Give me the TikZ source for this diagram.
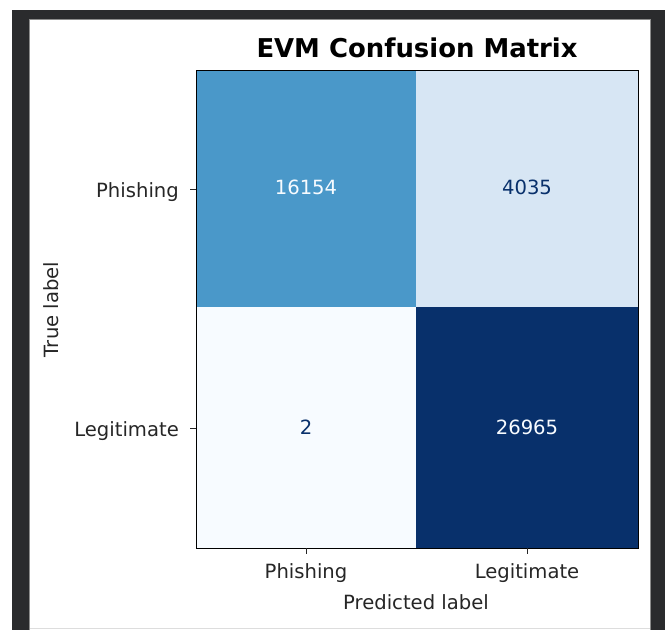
\documentclass[tikz,border=0pt]{standalone}
\usepackage{fontspec}
\setmainfont{DejaVu Sans}
\definecolor{framedark}{HTML}{2A2B2D}
\definecolor{framegray}{HTML}{8C8C8C}
\definecolor{bluemid}{HTML}{4A98C9}
\definecolor{bluepale}{HTML}{D7E6F4}
\definecolor{bluewhite}{HTML}{F7FBFF}
\definecolor{bluedark}{HTML}{08306B}
\definecolor{axisink}{HTML}{262626}
\tikzset{
  ticklabel/.style={inner sep=0pt, font=\fontsize{19.6}{23}\selectfont, text=axisink},
  axislabel/.style={inner sep=0pt, font=\fontsize{19.6}{23}\selectfont, text=axisink},
  count/.style={inner sep=0pt, anchor=base, font=\fontsize{19.6}{23}\selectfont},
  tickmark/.style={draw=axisink, line width=1pt},
}
\begin{document}
\begin{tikzpicture}[x=1pt,y=-1pt]
\useasboundingbox (0,0) rectangle (668,630);
% page and dark frame
\fill[white] (0,0) rectangle (668,630);
\fill[framedark] (12,10) rectangle (665,630);
\fill[white] (29,19) rectangle (651,630);
\draw[framegray, line width=0.8pt] (29.4,630) -- (29.4,19.4) -- (650.6,19.4) -- (650.6,630);
\draw[framegray!30, line width=0.8pt] (29.8,628.6) -- (650.2,628.6);

% matrix cells
\fill[bluemid]   (196,70)  rectangle (416,307);
\fill[bluepale]  (416,70)  rectangle (638,307);
\fill[bluewhite] (196,307) rectangle (416,548);
\fill[bluedark]  (416,307) rectangle (638,548);
\draw[black, line width=1pt] (196,70) rectangle (638,548);

% counts
\node[count, text=bluewhite] (n11) at (306,194) {16154};
\node[count, text=bluedark]  (n12) at (527,194) {4035};
\node[count, text=bluedark]  (n21) at (306,434) {2};
\node[count, text=bluewhite] (n22) at (527,434) {26965};

% tick marks
\draw[tickmark] (196,189) -- (190,189);
\draw[tickmark] (196,428) -- (190,428);
\draw[tickmark] (306,548) -- (306,554);
\draw[tickmark] (527,548) -- (527,554);

% tick labels
\node[ticklabel, anchor=base east] (yp) at (179,197) {Phishing};
\node[ticklabel, anchor=base east] (yl) at (179,436) {Legitimate};
\node[ticklabel, anchor=base] (xp) at (306,578) {Phishing};
\node[ticklabel, anchor=base] (xl) at (527,578) {Legitimate};

% axis labels and title
\node[axislabel, anchor=base, rotate=90] (ylab) at (58,309.5) {True label};
\node[axislabel, anchor=base] (xlab) at (416,609) {Predicted label};
\node[inner sep=0pt, anchor=base, font=\bfseries\fontsize{25.9}{30}\selectfont] (title) at (417,57) {EVM Confusion Matrix};
\end{tikzpicture}
\end{document}
